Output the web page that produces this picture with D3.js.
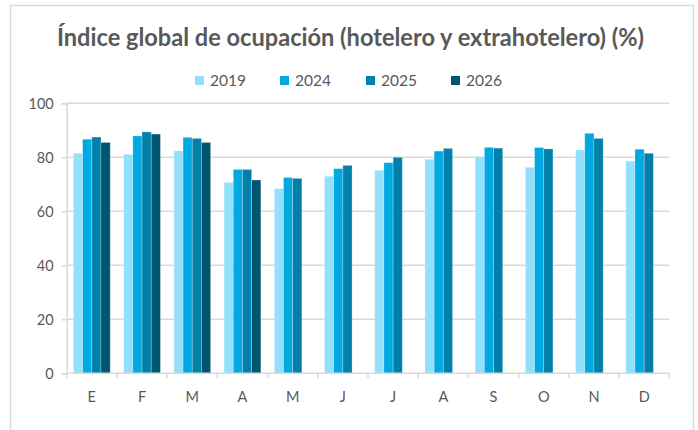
<!DOCTYPE html>
<html><head><meta charset="utf-8">
<script src="https://cdn.jsdelivr.net/npm/d3@7"></script>
<style>
html,body{margin:0;padding:0;background:#fff;}
svg{display:block;font-family:Lato,"Open Sans",sans-serif;}
</style></head>
<body>
<svg id="chart" width="698" height="430"></svg>
<script>
const titleText = "Índice global de ocupación (hotelero y extrahotelero) (%)";
const months = ["E","F","M","A","M","J","J","A","S","O","N","D"];
const seriesNames = ["2019","2024","2025","2026"];
const colors = ["#92E0FC","#00A9E0","#0080AA","#00566F"];
const v2019 = [81.5,81.1,82.4,70.7,68.4,73.0,75.2,79.3,80.2,76.3,82.7,78.6];
const v2024 = [86.7,87.9,87.4,75.5,72.5,75.8,78.0,82.3,83.7,83.6,88.9,83.0];
const v2025 = [87.5,89.4,87.0,75.5,72.2,77.0,80.0,83.3,83.4,83.1,87.0,81.5];
const v2026 = [85.5,88.6,85.5,71.6,null,null,null,null,null,null,null,null];
const yTicks = [0,20,40,60,80,100];

const seriesValues = [v2019,v2024,v2025,v2026];
const svg = d3.select("#chart");
const grey = "#595959", gridC = "#D9D9D9";

// outer border
svg.append("rect").attr("x",10.5).attr("y",5.5).attr("width",683).attr("height",440)
  .attr("fill","none").attr("stroke","#D9D9D9").attr("stroke-width",1.5);

const L=66.7, R=669.3, T=103.3, B=373.3;
const x = d3.scaleBand().domain(d3.range(months.length)).range([L,R]).paddingInner(0).paddingOuter(0);
const xi = d3.scaleBand().domain(seriesNames).range([0,x.step()]).paddingInner(0).paddingOuter(0.73);
const y = d3.scaleLinear().domain([0,100]).range([B,T]);

// title
svg.append("text").attr("x",350.5).attr("y",45.5).attr("text-anchor","middle")
  .attr("fill",grey).attr("font-weight","bold").attr("font-size",25)
  .attr("textLength",587).attr("lengthAdjust","spacingAndGlyphs").text(titleText);

// legend
const legX = [195,280,366,451];
seriesNames.forEach((s,i)=>{
  svg.append("rect").attr("x",legX[i]).attr("y",76).attr("width",9).attr("height",9).attr("fill",colors[i]);
  svg.append("text").attr("x",legX[i]+15).attr("y",86).attr("fill",grey).attr("font-size",15.5).text(s);
});

// gridlines
svg.append("g").selectAll("line").data(yTicks.filter(t=>t>0)).join("line")
  .attr("x1",L).attr("x2",R).attr("y1",d=>y(d)).attr("y2",d=>y(d))
  .attr("stroke",gridC).attr("stroke-width",1.5);

// y axis
const yAxis = svg.append("g").attr("transform",`translate(${L},0)`)
  .call(d3.axisLeft(y).tickValues(yTicks).tickSize(5).tickPadding(8));
yAxis.select(".domain").attr("stroke",gridC).attr("stroke-width",1.5);
yAxis.selectAll(".tick line").attr("stroke",gridC).attr("stroke-width",1.5);
yAxis.selectAll("text").attr("fill",grey).attr("font-size",14.5).attr("font-family","Lato,sans-serif").attr("dy","0.35em");

// bars
seriesNames.forEach((s,si)=>{
  svg.append("g").selectAll("rect").data(seriesValues[si].map((v,i)=>({v,i})).filter(d=>d.v!=null)).join("rect")
    .attr("x",d=>x(d.i)+xi(s)).attr("width",xi.bandwidth())
    .attr("y",d=>y(d.v)).attr("height",d=>y(0)-y(d.v))
    .attr("fill",colors[si]).attr("stroke","#ffffff").attr("stroke-opacity",0.35).attr("stroke-width",0.75);
});

// x axis
const xAxisG = svg.append("g").attr("transform",`translate(0,${B})`);
xAxisG.append("line").attr("x1",L).attr("x2",R).attr("stroke",gridC).attr("stroke-width",1.5);
xAxisG.selectAll("line.tk").data(d3.range(months.length+1)).join("line").attr("class","tk")
  .attr("x1",d=>L+d*x.step()).attr("x2",d=>L+d*x.step()).attr("y1",0).attr("y2",5)
  .attr("stroke",gridC).attr("stroke-width",1.5);
xAxisG.selectAll("text").data(months).join("text")
  .attr("x",(d,i)=>x(i)+x.bandwidth()/2).attr("y",29).attr("text-anchor","middle")
  .attr("fill",grey).attr("font-size",14.5).text(d=>d);
</script>
</body></html>
